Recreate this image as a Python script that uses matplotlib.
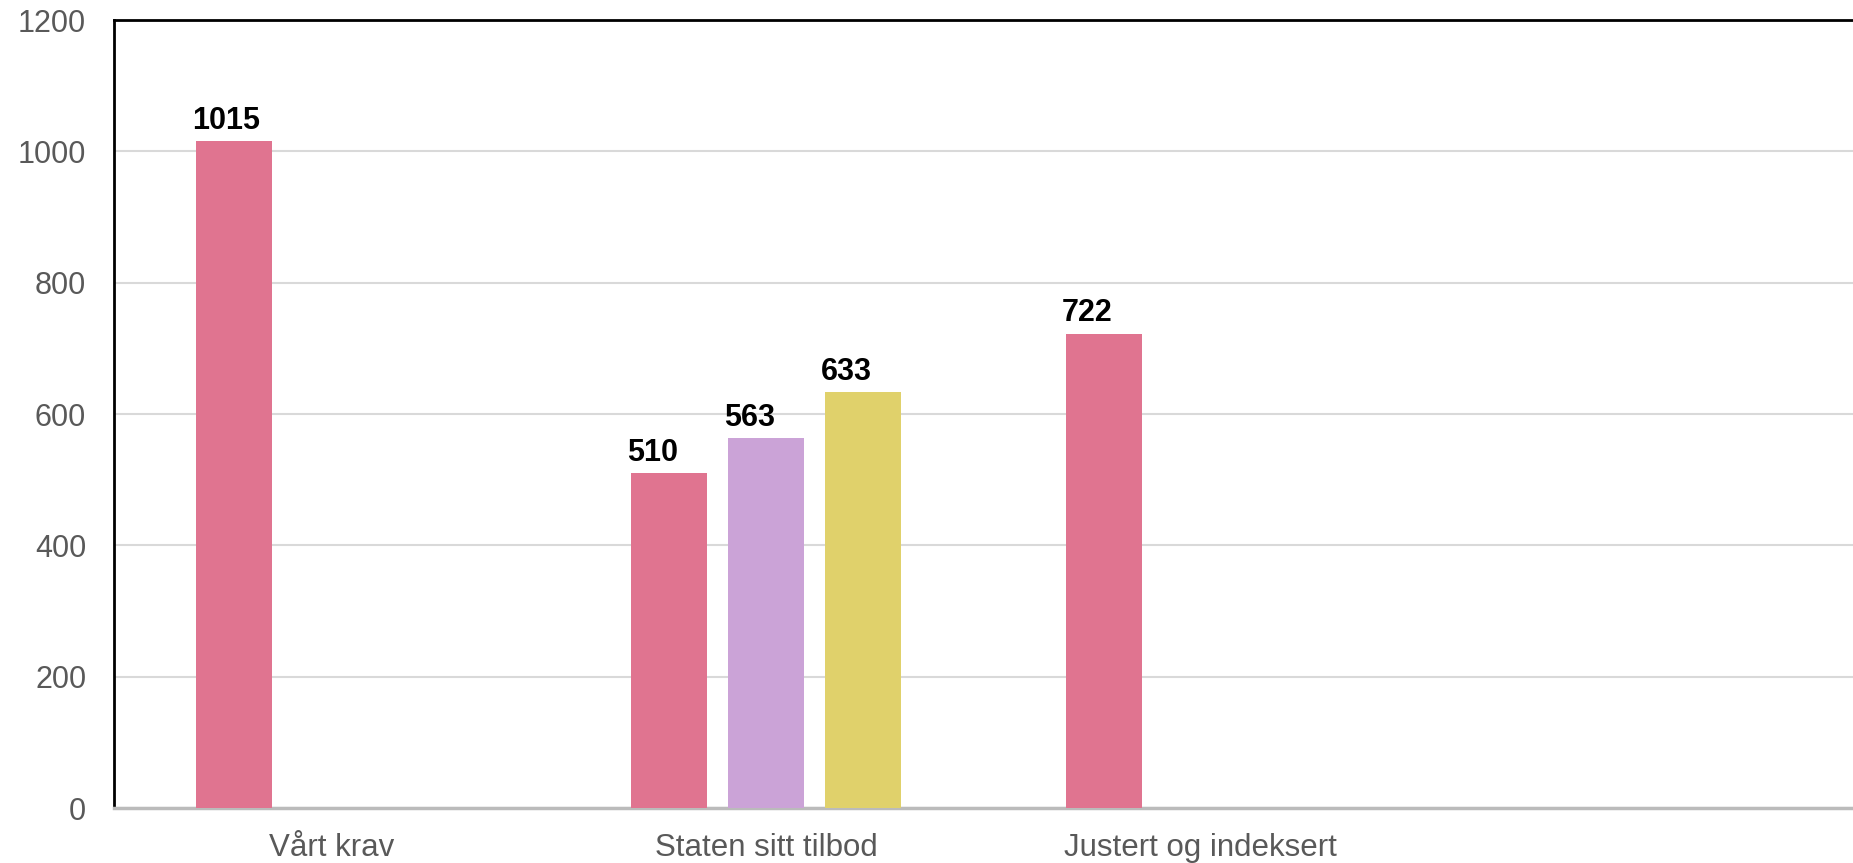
import numpy as np
import matplotlib
matplotlib.use("Agg")
import matplotlib.pyplot as plt

# Chart data
categories = ["Vårt krav", "Staten sitt tilbod", "Justert og indeksert", ""]
series_a = [1015, 510, 722, np.nan]
series_b = [np.nan, 563, np.nan, np.nan]
series_c = [np.nan, 633, np.nan, np.nan]
y_ticks = [0, 200, 400, 600, 800, 1000, 1200]

COLORS = ["#E07490", "#CBA3D7", "#E0D16B"]
SLOT = 0.223
BAR_W = 0.175

plt.rcParams['font.family'] = ['Liberation Sans', 'DejaVu Sans']

fig = plt.figure(figsize=(18.53, 8.63), dpi=100)
ax = fig.add_axes([114 / 1853, 1 - 808 / 863, 1 - 114 / 1853, (808 - 20) / 863])

x = np.arange(len(categories))
for i, (vals, col) in enumerate(zip([series_a, series_b, series_c], COLORS)):
    pos = x + (i - 1) * SLOT
    ax.bar(pos, vals, width=BAR_W, color=col, linewidth=0, zorder=3)
    for p, v in zip(pos, vals):
        if np.isnan(v):
            continue
        ax.annotate(f"{v:.0f}", (p - BAR_W / 2, v), xytext=(-3, 4),
                    textcoords="offset points", ha="left", va="bottom",
                    fontsize=22, fontweight="bold", color="black")

ax.set_xlim(-0.5, len(categories) - 0.5)
ax.set_ylim(0, 1200)
ax.set_xticks(x)
ax.set_xticklabels(categories, fontsize=22.5)
ax.set_yticks(y_ticks)
ax.tick_params(axis="both", length=0, labelcolor="#595959")
ax.tick_params(axis="y", pad=20, labelsize=22)
ax.tick_params(axis="x", pad=18)

ax.grid(axis="y", color="#d9d9d9", linewidth=1.5, zorder=0)
ax.set_axisbelow(True)

ax.spines["right"].set_visible(False)
ax.spines["top"].set_color("black")
ax.spines["top"].set_linewidth(2)
ax.spines["left"].set_color("black")
ax.spines["left"].set_linewidth(2)
ax.spines["bottom"].set_color("#bbbbbb")
ax.spines["bottom"].set_linewidth(2.5)

fig.savefig("out.png", dpi=100)
